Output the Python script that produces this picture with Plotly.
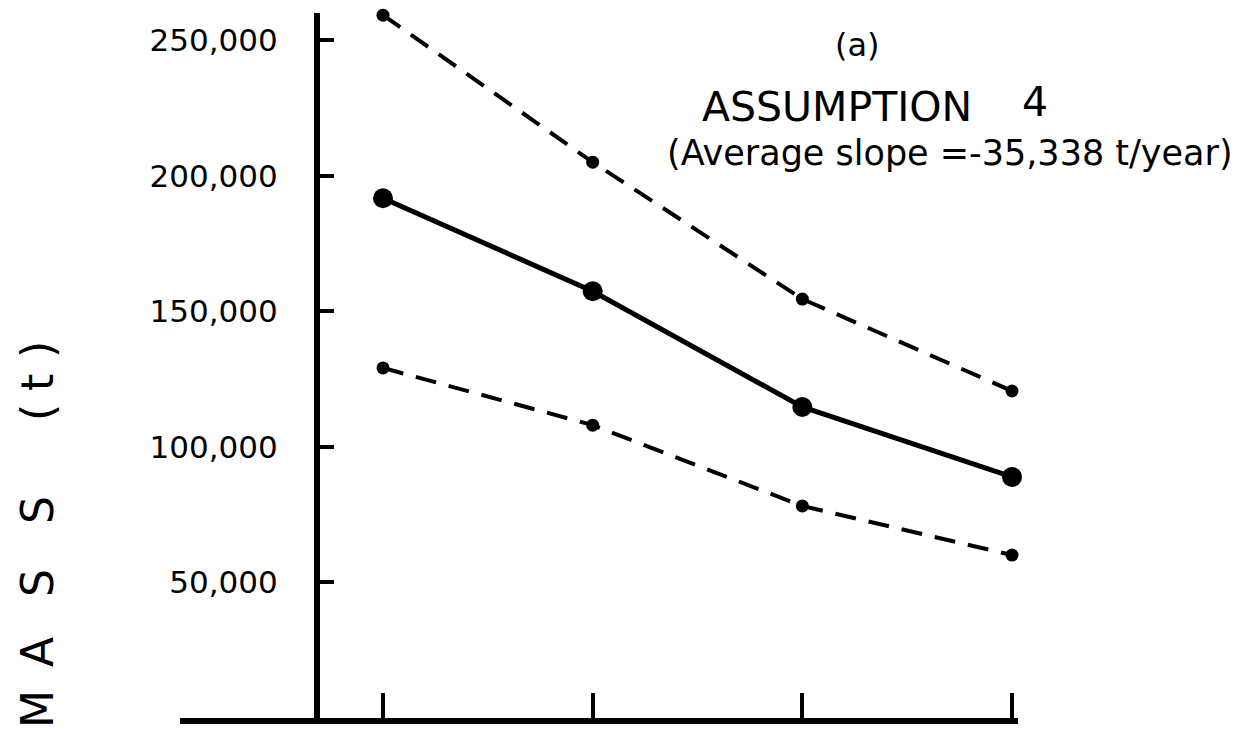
import plotly.graph_objects as go

# ---- data ----
years = [1, 2, 3, 4]
mass_mean = [191700, 157400, 114700, 88900]
mass_upper = [259200, 205000, 154500, 120600]
mass_lower = [129100, 108000, 78200, 60100]

ytick_vals = [50000, 100000, 150000, 200000, 250000]
ytick_text = ["50,000", "100,000", "150,000", "200,000", "250,000"]

panel_label = "(a)"
title_main = "ASSUMPTION"
title_num = "4"
subtitle = "(Average slope =-35,338 t/year)"
ylabel_letters = ["M", "A", "S", "S", "(", "t", ")"]

# ---- layout geometry ----
W, H = 1247, 729
L, R, T, B = 180, 229, 13, 11
PW, PH = W - L - R, H - T - B


def px(x):
    return (x - L) / PW


def py(y):
    return 1 - (y - T) / PH


FONT = "DejaVu Sans"
fig = go.Figure()

fig.add_trace(go.Scatter(
    x=years, y=mass_upper, mode="lines+markers",
    line=dict(color="black", width=4, dash="21px,13px"),
    marker=dict(size=13, color="black"), cliponaxis=False, showlegend=False))
fig.add_trace(go.Scatter(
    x=years, y=mass_lower, mode="lines+markers",
    line=dict(color="black", width=4, dash="21px,13px"),
    marker=dict(size=13, color="black"), cliponaxis=False, showlegend=False))
fig.add_trace(go.Scatter(
    x=years, y=mass_mean, mode="lines+markers",
    line=dict(color="black", width=5),
    marker=dict(size=20, color="black"), cliponaxis=False, showlegend=False))

x_lo = 1 - (383 - L) / 209.67
x_hi = 4 + (1018 - 1012) / 209.67

fig.update_layout(
    width=W, height=H, autosize=False,
    margin=dict(l=L, r=R, t=T, b=B, pad=0),
    paper_bgcolor="white", plot_bgcolor="white",
    font=dict(family=FONT, color="black"),
    xaxis=dict(range=[x_lo, x_hi], showline=True, linewidth=6, linecolor="black",
               ticks="inside", ticklen=25, tickwidth=4, tickcolor="black",
               tickvals=years, showticklabels=False, showgrid=False, zeroline=False),
    yaxis=dict(range=[0, 260000], anchor="free", position=px(317),
               showline=True, linewidth=6, linecolor="black",
               ticks="inside", ticklen=14, tickwidth=4, tickcolor="black",
               tickvals=ytick_vals, ticktext=ytick_text,
               tickfont=dict(size=31, family=FONT, color="black"),
               ticklabelstandoff=30, showgrid=False, zeroline=False),
)

ann = []
ann.append(dict(x=px(857), y=py(45), xref="paper", yref="paper", text=panel_label,
                showarrow=False, font=dict(size=32, family=FONT), xanchor="center", yanchor="middle"))
ann.append(dict(x=px(837), y=py(107), xref="paper", yref="paper", text=title_main,
                showarrow=False, font=dict(size=41, family=FONT), xanchor="center", yanchor="middle"))
ann.append(dict(x=px(1035), y=py(102), xref="paper", yref="paper", text=title_num,
                showarrow=False, font=dict(size=41, family=FONT), xanchor="center", yanchor="middle"))
ann.append(dict(x=px(950), y=py(153), xref="paper", yref="paper", text=subtitle,
                showarrow=False, font=dict(size=35, family=FONT), xanchor="center", yanchor="middle"))

letter_y = [709, 652, 583, 510, 413, 383, 350]
for ch, yy in zip(ylabel_letters, letter_y):
    ann.append(dict(x=px(37), y=py(yy), xref="paper", yref="paper", text=ch, textangle=-90,
                    showarrow=False, font=dict(size=44, family=FONT),
                    xanchor="center", yanchor="middle"))
fig.update_layout(annotations=ann)

fig.write_html("out.html")
